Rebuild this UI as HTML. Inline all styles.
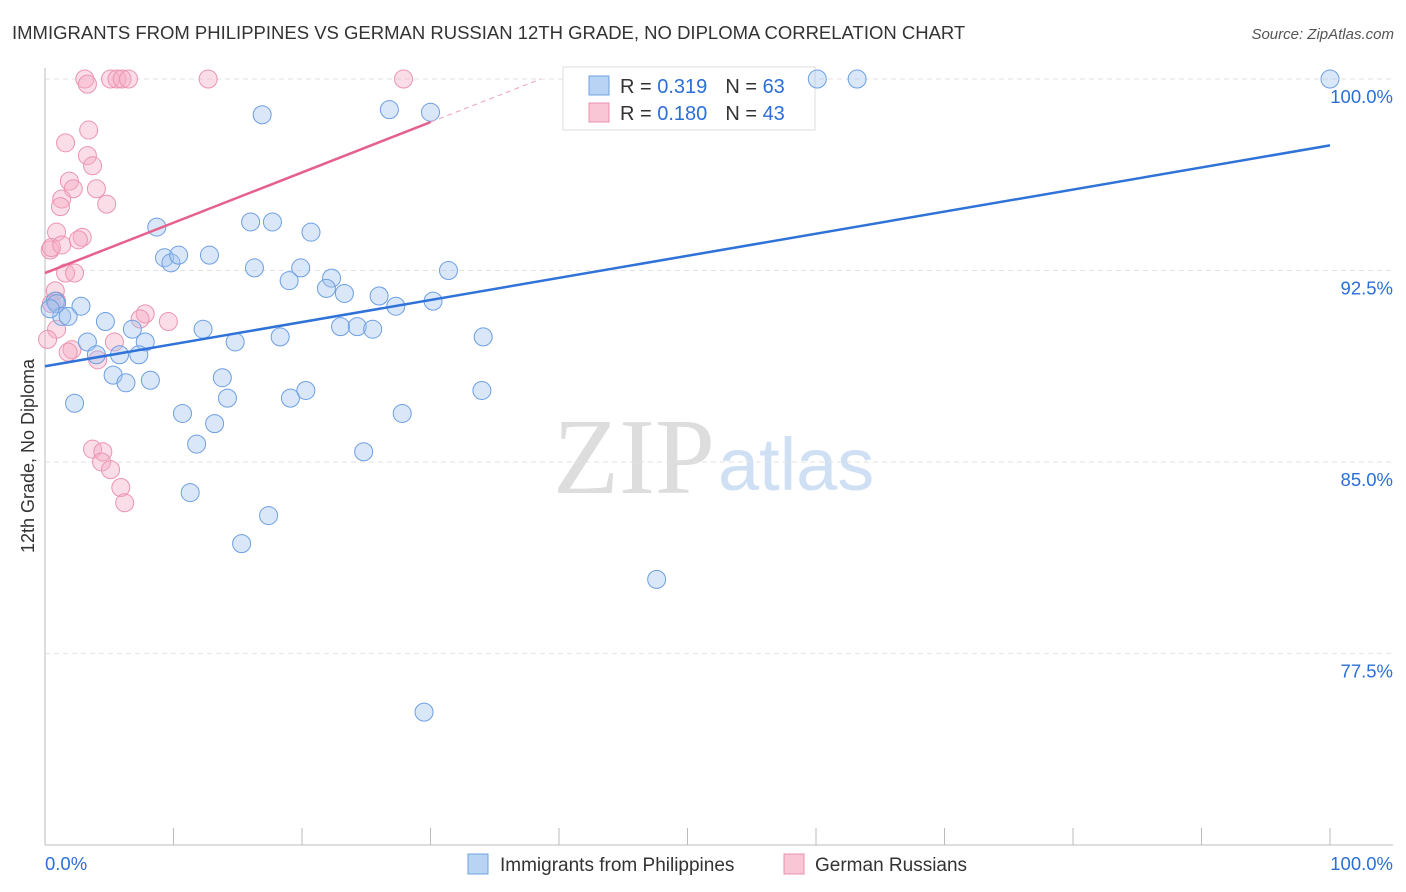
<!DOCTYPE html>
<html><head><meta charset="utf-8">
<style>
body{margin:0;background:#fff;font-family:"Liberation Sans",sans-serif;}
</style></head>
<body>
<svg id="c" width="1406" height="892" xmlns="http://www.w3.org/2000/svg" style="display:block">
<text x="12" y="39" font-size="18.5" fill="#333">IMMIGRANTS FROM PHILIPPINES VS GERMAN RUSSIAN 12TH GRADE, NO DIPLOMA CORRELATION CHART</text>
<text x="1394" y="39" font-size="15" fill="#555" text-anchor="end" font-style="italic">Source: ZipAtlas.com</text>
<text transform="translate(34,456) rotate(-90)" font-size="18" fill="#333" text-anchor="middle">12th Grade, No Diploma</text>
<g>
<text x="553" y="493" font-size="108" fill="#ddd" font-family="Liberation Serif,serif">ZIP</text>
<text x="718" y="490" font-size="74" fill="#cfe0f5">atlas</text>
</g>
<g id="grid"></g>
<g>
<rect x="563" y="67" width="252" height="63" fill="#fff" stroke="#ddd"/>
<rect x="589" y="76" width="20" height="19" fill="#b9d3f4" stroke="#6fa0e0"/>
<rect x="589" y="103" width="20" height="19" fill="#f8c6d5" stroke="#e890aa"/>
<text x="620" y="93" font-size="20" fill="#333">R = <tspan fill="#2b6fd6">0.319</tspan><tspan dx="18">N = </tspan><tspan fill="#2b6fd6">63</tspan></text>
<text x="620" y="120" font-size="20" fill="#333">R = <tspan fill="#2b6fd6">0.180</tspan><tspan dx="18">N = </tspan><tspan fill="#2b6fd6">43</tspan></text>
</g>
<g id="pts"></g>
<g id="trend"></g>
<g>
<rect x="468" y="854" width="20" height="20" fill="#b9d3f4" stroke="#6fa0e0"/>
<text x="500" y="871" font-size="19" fill="#333">Immigrants from Philippines</text>
<rect x="784" y="854" width="20" height="20" fill="#f8c6d5" stroke="#e890aa"/>
<text x="815" y="871" font-size="19" fill="#333">German Russians</text>
</g>
</svg>
<script>
const yTicks=[100,92.5,85,77.5];
const yTickLabels=["100.0%","92.5%","85.0%","77.5%"];
const xTickLabels=["0.0%","100.0%"];
const blueX=[60.1,63.2,100,16.9,26.8,30.0,8.7,16.0,17.7,20.7,9.3,9.8,10.4,12.8,16.3,19.9,19.0,22.3,21.9,23.3,26.0,27.3,30.2,31.4,0.8,0.9,2.8,1.3,1.8,4.7,6.8,12.3,23.0,24.3,25.5,18.3,34.1,3.3,7.8,14.8,4.0,5.8,7.3,5.3,6.3,8.2,13.8,14.2,19.1,20.3,34.0,2.3,10.7,13.2,27.8,11.8,24.8,11.3,17.4,15.3,47.6,29.5,0.4];
const blueY=[100,100,100,98.6,98.8,98.7,94.2,94.4,94.4,94.0,93.0,92.8,93.1,93.1,92.6,92.6,92.1,92.2,91.8,91.6,91.5,91.1,91.3,92.5,91.3,91.2,91.1,90.7,90.7,90.5,90.2,90.2,90.3,90.3,90.2,89.9,89.9,89.7,89.7,89.7,89.2,89.2,89.2,88.4,88.1,88.2,88.3,87.5,87.5,87.8,87.8,87.3,86.9,86.5,86.9,85.7,85.4,83.8,82.9,81.8,80.4,75.2,91.0];
const pinkX=[3.1,3.3,5.1,5.6,6.0,6.5,12.7,27.9,3.4,1.6,3.3,3.7,1.9,2.2,4.0,1.3,1.2,4.8,0.9,2.9,2.6,0.4,0.5,1.3,1.6,2.3,0.8,0.9,0.5,7.8,7.4,9.6,0.9,0.2,5.4,2.1,1.8,4.1,3.7,4.5,4.4,5.1,5.9,6.2];
const pinkY=[100,99.8,100,100,100,100,100,100,98.0,97.5,97.0,96.6,96.0,95.7,95.7,95.3,95.0,95.1,94.0,93.8,93.7,93.3,93.4,93.5,92.4,92.4,91.7,91.3,91.2,90.8,90.6,90.5,90.2,89.8,89.7,89.4,89.3,89.0,85.5,85.4,85.0,84.7,84.0,83.4];
const blueTrend=[88.75,97.4];
const pinkTrend=[92.4,0.197];
const NS="http://www.w3.org/2000/svg";
const X=v=>45+v*12.85, Y=v=>79+(100-v)*25.53;
function mk(t,a,p){const e=document.createElementNS(NS,t);for(const k in a)e.setAttribute(k,a[k]);p.appendChild(e);return e;}
const g=document.getElementById('grid');
yTicks.forEach((t,i)=>{
 const l=mk('line',{x1:45,x2:1393,y1:Y(t),y2:Y(t),stroke:'#e2e2e2','stroke-dasharray':'5,4'},g);
 
 
 const tx=mk('text',{x:1393,y:Y(t)+24,'font-size':18.5,fill:'#2b6fd6','text-anchor':'end'},g);
 tx.textContent=yTickLabels[i];
 
 
});
const ax=mk('line',{x1:45,x2:45,y1:68,y2:845,stroke:'#bbb'},g);


const bx=mk('line',{x1:45,x2:1393,y1:845,y2:845,stroke:'#bbb'},g);


for(let i=0;i<=10;i++){const t=mk('line',{x1:X(i*10),x2:X(i*10),y1:828,y2:845,stroke:'#bbb'},g);
 
 }
[[0,'start',45],[1,'end',1393]].forEach(([i,a,x])=>{const t=mk('text',{x:x,y:870,'font-size':18.5,fill:'#2b6fd6','text-anchor':a},g);t.textContent=xTickLabels[i];
 
 });
const p=document.getElementById('pts');
pinkX.forEach((x,i)=>{const c=mk('circle',{cx:X(x),cy:Y(pinkY[i]),r:9,fill:'rgba(244,170,195,0.4)',stroke:'#eb94b0','stroke-width':1},p);
 
 });
blueX.forEach((x,i)=>{const c=mk('circle',{cx:X(x),cy:Y(blueY[i]),r:9,fill:'rgba(160,195,240,0.4)',stroke:'#6d9fe2','stroke-width':1},p);
 
 });
const tr=document.getElementById('trend');
const b=mk('line',{x1:X(0),y1:Y(blueTrend[0]),x2:X(100),y2:Y(blueTrend[1]),stroke:'#2f72d8','stroke-width':2.5},tr);


const pk=mk('line',{x1:X(0),y1:Y(pinkTrend[0]),x2:X(30),y2:Y(pinkTrend[0]+30*pinkTrend[1]),stroke:'#e5608c','stroke-width':2.5},tr);


const xe=(100-pinkTrend[0])/pinkTrend[1];
const pd=mk('line',{x1:X(30),y1:Y(pinkTrend[0]+30*pinkTrend[1]),x2:X(xe),y2:Y(100),stroke:'#eea0b8','stroke-width':1,'stroke-dasharray':'5,4'},tr);


</script>
</body></html>
